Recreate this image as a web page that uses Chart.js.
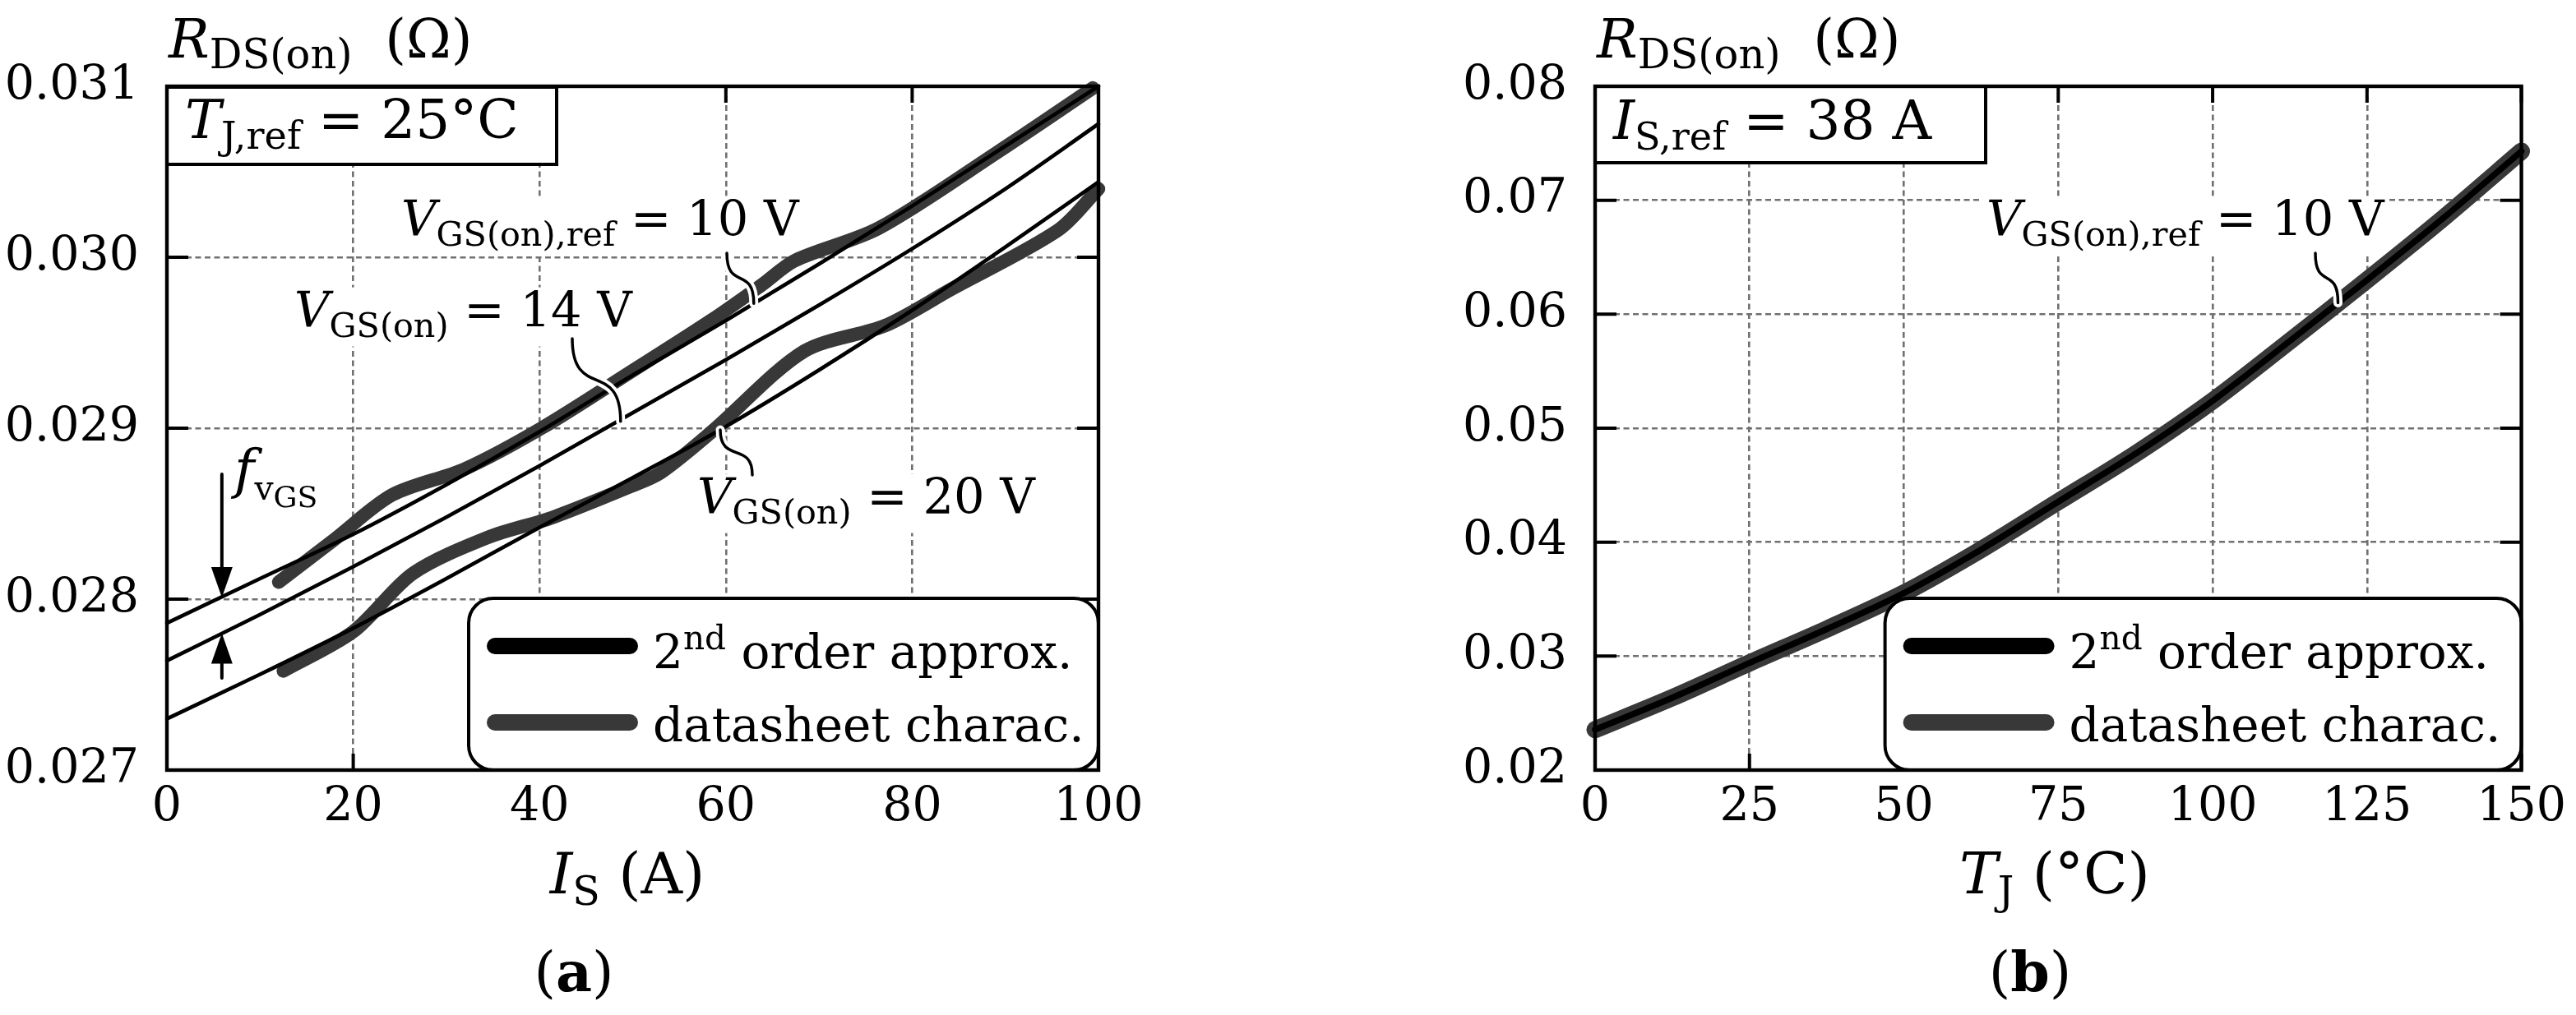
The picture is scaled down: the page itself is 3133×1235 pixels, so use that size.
<!DOCTYPE html>
<html>
<head>
<meta charset="utf-8">
<script src="https://cdn.jsdelivr.net/npm/chart.js@4.4.1/dist/chart.umd.min.js"></script>
<style>
    html, body { margin: 0; padding: 0; background: #fff; }
    body { width: 3133px; height: 1235px; position: relative; overflow: hidden; }
    .panel { position: absolute; top: 0; height: 1235px; }
    #panelA { left: 0; width: 1500px; }
    #panelB { left: 1566px; width: 1567px; }
</style>
</head>
<body>
<div class="panel" id="panelA"><canvas id="chartA"></canvas></div>
<div class="panel" id="panelB"><canvas id="chartB"></canvas></div>
<script>
// (a) R_DS(on) vs I_S
const corrienteAprox = [0, 10, 20, 30, 40, 50, 60, 70, 80, 90, 100];
const rAprox10V = [0.02786, 0.02812, 0.02838, 0.02867, 0.02898, 0.02931, 0.02963, 0.02996, 0.03030, 0.03065, 0.03100];
const rAprox14V = [0.02764, 0.02791, 0.02819, 0.02848, 0.02878, 0.02909, 0.02940, 0.02972, 0.03005, 0.03040, 0.03078];
const rAprox20V = [0.02730, 0.02756, 0.02783, 0.02812, 0.02842, 0.02871, 0.02901, 0.02934, 0.02969, 0.03006, 0.03044];

const corrienteHoja10V = [12.0, 18.0, 24.2, 31.9, 40.2, 50.1, 58.4, 63.9, 67.4, 76.4, 89.3, 99.4];
const rHoja10V = [0.02810, 0.02835, 0.02861, 0.02876, 0.02900, 0.02934, 0.02963, 0.02984, 0.02998, 0.03017, 0.03062, 0.03099];
const corrienteHoja20V = [12.5, 20.0, 26.4, 34.4, 41.5, 49.8, 53.0, 58.5, 68.4, 77.1, 84.1, 95.7, 100.0];
const rHoja20V = [0.02758, 0.02781, 0.02815, 0.02836, 0.02848, 0.02866, 0.02874, 0.02898, 0.02945, 0.02960, 0.02981, 0.03016, 0.03040];

const ticksCorriente = [0, 20, 40, 60, 80, 100];
const ticksResistenciaA = [0.027, 0.028, 0.029, 0.030, 0.031];

// (b) R_DS(on) vs T_J
const temperatura = [0, 12.5, 25, 37.5, 50, 62.5, 75, 87.5, 100, 112.5, 125, 137.5, 150];
const rAproxTemp = [0.02355, 0.02635, 0.02940, 0.03237, 0.03553, 0.03935, 0.04355, 0.04775, 0.05240, 0.05765, 0.06300, 0.06850, 0.07430];
const rHojaTemp = [0.02355, 0.02635, 0.02940, 0.03237, 0.03553, 0.03935, 0.04355, 0.04775, 0.05240, 0.05765, 0.06300, 0.06850, 0.07430];

const ticksTemperatura = [0, 25, 50, 75, 100, 125, 150];
const ticksResistenciaB = [0.02, 0.03, 0.04, 0.05, 0.06, 0.07, 0.08];

const COLOR_APROX = '#000000';
const COLOR_HOJA = '#383838';
const FUENTE = '"DejaVu Serif", serif';

Chart.defaults.font.family = FUENTE;
Chart.defaults.font.size = 57;
Chart.defaults.color = '#000';

const puntos = (xs, ys) => xs.map((x, i) => ({ x: x, y: ys[i] }));

// piezas de texto con subindices
const it = t => ({ t: t, it: true });
const rm = t => ({ t: t });
const bf = t => ({ t: t, b: true });
const sub = t => ({ t: t, k: 0.7, dy: 0.2 });
const sup = t => ({ t: t, k: 0.7, dy: -0.4 });
const esp = e => ({ t: '', sp: e });

function fuente(p, F) {
    return (p.it ? 'italic ' : '') + (p.b ? 'bold ' : '') + (F * (p.k || 1)).toFixed(1) + 'px ' + FUENTE;
}

function anchoTexto(ctx, partes, F) {
    let w = 0;
    partes.forEach(p => {
        ctx.font = fuente(p, F);
        w += ctx.measureText(p.t).width + (p.sp || 0) * F;
    });
    return w;
}

function escribir(ctx, partes, x, y, F, alinear) {
    const w = anchoTexto(ctx, partes, F);
    let cx = alinear === 'center' ? x - w / 2 : x;
    ctx.textAlign = 'left';
    ctx.textBaseline = 'alphabetic';
    ctx.fillStyle = '#000';
    partes.forEach(p => {
        ctx.font = fuente(p, F);
        ctx.fillText(p.t, cx, y + (p.dy || 0) * F);
        cx += ctx.measureText(p.t).width + (p.sp || 0) * F;
    });
}

function pin(ctx, x0, y0, x1, y1) {
    const h = y1 - y0;
    ctx.beginPath();
    ctx.moveTo(x0, y0);
    ctx.bezierCurveTo(x0, y0 + h * 0.75, x1, y1 - h * 0.75, x1, y1);
    ctx.lineCap = 'round';
    ctx.strokeStyle = '#fff';
    ctx.lineWidth = 11;
    ctx.stroke();
    ctx.strokeStyle = '#000';
    ctx.lineWidth = 3.5;
    ctx.stroke();
}

function flecha(ctx, x, y0, y1) {
    const dir = Math.sign(y1 - y0);
    ctx.beginPath();
    ctx.moveTo(x, y0);
    ctx.lineTo(x, y1 - dir * 30);
    ctx.lineWidth = 4;
    ctx.strokeStyle = '#000';
    ctx.stroke();
    ctx.beginPath();
    ctx.moveTo(x, y1);
    ctx.lineTo(x - 13, y1 - dir * 37);
    ctx.lineTo(x + 13, y1 - dir * 37);
    ctx.closePath();
    ctx.fillStyle = '#000';
    ctx.fill();
}

function crearDecoracion(cfg) {
    return {
        id: 'decoracion',
        beforeDatasetsDraw(chart) {
            const ctx = chart.ctx, ca = chart.chartArea;
            ctx.save();
            ctx.fillStyle = '#fff';
            cfg.etiquetas.forEach(e => {
                const w = anchoTexto(ctx, e.partes, e.F);
                ctx.fillRect(ca.left + e.dx - 6, ca.top + e.dy - e.F * 0.82, w + 12, e.F * 1.22);
            });
            if (cfg.fvgs) {
                const f = cfg.fvgs;
                ctx.fillRect(ca.left + f.dx - 4, ca.top + f.dy - f.F * 0.85, 140, f.F * 1.25);
            }
            ctx.restore();
        },
        afterDatasetsDraw(chart) {
            const ctx = chart.ctx, ca = chart.chartArea;
            const sx = chart.scales.x, sy = chart.scales.y;
            const punto = p => p.px !== undefined
                ? [ca.left + p.px, ca.top + p.py]
                : [sx.getPixelForValue(p.x), sy.getPixelForValue(p.y)];
            ctx.save();

            cfg.pines.forEach(p => {
                const a = punto(p.de), b = punto(p.a);
                pin(ctx, a[0], a[1], b[0], b[1]);
            });
            cfg.etiquetas.forEach(e => escribir(ctx, e.partes, ca.left + e.dx, ca.top + e.dy, e.F));

            if (cfg.fvgs) {
                const f = cfg.fvgs;
                const x = sx.getPixelForValue(f.x);
                flecha(ctx, x, sy.getPixelForValue(f.arribaDesde), sy.getPixelForValue(f.arribaPunta));
                flecha(ctx, x, sy.getPixelForValue(f.abajoDesde), sy.getPixelForValue(f.abajoPunta));
                escribir(ctx, [it('f'), { t: 'v', k: 0.62, dy: 0.23 }, { t: 'GS', k: 0.55, dy: 0.36 }],
                    ca.left + f.dx, ca.top + f.dy, f.F);
            }

            // marcas hacia dentro en los cuatro lados
            ctx.strokeStyle = '#000';
            ctx.lineWidth = 4;
            ctx.lineCap = 'butt';
            ctx.beginPath();
            sx.ticks.forEach(t => {
                const x = sx.getPixelForValue(t.value);
                ctx.moveTo(x, ca.bottom); ctx.lineTo(x, ca.bottom - 20);
                ctx.moveTo(x, ca.top); ctx.lineTo(x, ca.top + 20);
            });
            sy.ticks.forEach(t => {
                const y = sy.getPixelForValue(t.value);
                ctx.moveTo(ca.left, y); ctx.lineTo(ca.left + 26, y);
                ctx.moveTo(ca.right, y); ctx.lineTo(ca.right - 26, y);
            });
            ctx.stroke();

            // recuadro de referencia
            const c = cfg.caja;
            ctx.fillStyle = '#fff';
            ctx.fillRect(ca.left + c.x, ca.top + c.y, c.w, c.h);
            ctx.lineWidth = 4;
            ctx.strokeRect(ca.left + c.x, ca.top + c.y, c.w, c.h);
            escribir(ctx, c.partes, ca.left + c.dx, ca.top + c.dy, c.F);

            // leyenda
            const L = cfg.leyenda;
            const bx = ca.right - L.w, by = ca.bottom - L.h;
            ctx.beginPath();
            ctx.roundRect(bx, by, L.w, L.h, 30);
            ctx.fillStyle = '#fff';
            ctx.fill();
            ctx.lineWidth = 4;
            ctx.strokeStyle = '#000';
            ctx.stroke();
            const filas = [
                { color: COLOR_APROX, y: 58, base: 85, partes: [rm('2'), sup('nd'), rm(' order approx.')] },
                { color: COLOR_HOJA, y: 151, base: 174, partes: [rm('datasheet charac.')] }
            ];
            filas.forEach(f => {
                ctx.beginPath();
                ctx.moveTo(bx + 32, by + f.y);
                ctx.lineTo(bx + 196, by + f.y);
                ctx.lineCap = 'round';
                ctx.lineWidth = 20;
                ctx.strokeStyle = f.color;
                ctx.stroke();
                escribir(ctx, f.partes, bx + 224, by + f.base, 58);
            });

            // marco
            ctx.lineCap = 'butt';
            ctx.lineWidth = 4.4;
            ctx.strokeStyle = '#000';
            ctx.strokeRect(ca.left, ca.top, ca.width, ca.height);

            // titulos
            escribir(ctx, [it('R'), { t: 'DS(on)', k: 0.75, dy: 0.2 }, esp(0.6), rm('(Ω)')], ca.left + 2, ca.top - 35, 66);
            escribir(ctx, cfg.tituloX, ca.left + cfg.centroX, ca.bottom + 150, 70, 'center');
            escribir(ctx, [rm('('), bf(cfg.letra), rm(')')], ca.left + cfg.centroLetra, ca.bottom + 269, 68, 'center');
            ctx.restore();
        }
    };
}

function crearGrafico(id, datasets, ejes, anchoEjeY, padDerecho, decoracion) {
    const rejilla = { color: '#707070', lineWidth: 2.6, drawTicks: false };
    const borde = { display: false, dash: [7, 4.5] };
    return new Chart(document.getElementById(id), {
        type: 'line',
        data: { datasets: datasets },
        options: {
            responsive: true,
            maintainAspectRatio: false,
            animation: false,
            layout: { padding: { left: 0, top: 105, right: padDerecho, bottom: 0 }, autoPadding: false },
            elements: { point: { radius: 0 } },
            plugins: { legend: { display: false }, tooltip: { enabled: false } },
            scales: {
                x: {
                    type: 'linear', min: ejes.xMin, max: ejes.xMax,
                    afterBuildTicks: s => { s.ticks = ejes.xTicks.map(v => ({ value: v })); },
                    afterFit: s => { s.height = 298; },
                    grid: rejilla, border: borde,
                    ticks: { padding: 12, maxRotation: 0, autoSkip: false, callback: v => String(v) }
                },
                y: {
                    type: 'linear', min: ejes.yMin, max: ejes.yMax,
                    afterBuildTicks: s => { s.ticks = ejes.yTicks.map(v => ({ value: v })); },
                    afterFit: s => { s.width = anchoEjeY; },
                    grid: rejilla, border: borde,
                    ticks: { padding: 34, autoSkip: false, callback: v => v.toFixed(ejes.decimales) }
                }
            }
        },
        plugins: [decoracion]
    });
}

const lineaAprox = (label, data, ancho) => ({
    label: label, data: data, borderColor: COLOR_APROX, borderWidth: ancho,
    cubicInterpolationMode: 'monotone', borderCapStyle: 'round', borderJoinStyle: 'round', clip: false
});
const lineaHoja = (label, data, ancho) => ({
    label: label, data: data, borderColor: COLOR_HOJA, borderWidth: ancho,
    tension: 0.3, borderCapStyle: 'round', borderJoinStyle: 'round', clip: false
});

const vgs = (resto) => [it('V'), sub(resto[0]), rm(resto[1])];

crearGrafico('chartA', [
    lineaAprox('2nd order approx. 10 V', puntos(corrienteAprox, rAprox10V), 4.6),
    lineaAprox('2nd order approx. 14 V', puntos(corrienteAprox, rAprox14V), 4.6),
    lineaAprox('2nd order approx. 20 V', puntos(corrienteAprox, rAprox20V), 4.6),
    lineaHoja('datasheet charac. 10 V', puntos(corrienteHoja10V, rHoja10V), 16.5),
    lineaHoja('datasheet charac. 20 V', puntos(corrienteHoja20V, rHoja20V), 16.5)
], {
    xMin: 0, xMax: 100, xTicks: ticksCorriente,
    yMin: 0.027, yMax: 0.031, yTicks: ticksResistenciaA, decimales: 3
}, 203, 164, crearDecoracion({
    caja: { x: 0, y: 1, w: 474, h: 94, dx: 22, dy: 63, F: 66, partes: [it('T'), sub('J,ref'), rm(' = 25°C')] },
    leyenda: { w: 766, h: 209 },
    etiquetas: [
        { dx: 285, dy: 182, F: 59, partes: vgs(['GS(on),ref', ' = 10 V']) },
        { dx: 155, dy: 293, F: 59, partes: vgs(['GS(on)', ' = 14 V']) },
        { dx: 645, dy: 520, F: 59, partes: vgs(['GS(on)', ' = 20 V']) }
    ],
    pines: [
        { de: { px: 681, py: 203 }, a: { x: 63.0, y: 0.02973 } },
        { de: { px: 493, py: 307 }, a: { x: 48.7, y: 0.02904 } },
        { de: { x: 59.4, y: 0.02899 }, a: { px: 712, py: 473 } }
    ],
    fvgs: { x: 5.9, arribaDesde: 0.028731, arribaPunta: 0.02801, abajoDesde: 0.027538, abajoPunta: 0.02780, dx: 82, dy: 488, F: 66 },
    tituloX: [it('I'), sub('S'), rm(' (A)')],
    centroX: 560,
    letra: 'a',
    centroLetra: 495
}));

crearGrafico('chartB', [
    lineaAprox('2nd order approx.', puntos(temperatura, rAproxTemp), 7.5),
    lineaHoja('datasheet charac.', puntos(temperatura, rHojaTemp), 21)
], {
    xMin: 0, xMax: 150, xTicks: ticksTemperatura,
    yMin: 0.02, yMax: 0.08, yTicks: ticksResistenciaB, decimales: 2
}, 374, 53, crearDecoracion({
    caja: { x: 0, y: 0, w: 475, h: 93, dx: 22, dy: 64, F: 66, partes: [it('I'), sub('S,ref'), rm(' = 38 A')] },
    leyenda: { w: 774, h: 209 },
    etiquetas: [
        { dx: 476, dy: 182, F: 59, partes: vgs(['GS(on),ref', ' = 10 V']) }
    ],
    pines: [
        { de: { px: 876, py: 203 }, a: { x: 120.3, y: 0.0610 } }
    ],
    fvgs: null,
    tituloX: [it('T'), sub('J'), rm(' (°C)')],
    centroX: 559,
    letra: 'b',
    centroLetra: 529
}));
</script>
</body>
</html>
